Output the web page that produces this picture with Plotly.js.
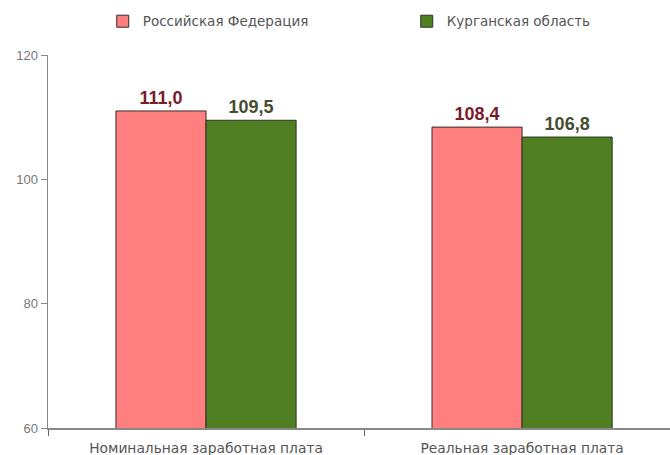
<!DOCTYPE html>
<html><head><meta charset="utf-8">
<script src="https://cdn.plot.ly/plotly-3.0.1.min.js"></script>
<style>html,body{margin:0;padding:0;background:#fff}#c{width:670px;height:455px}</style>
</head><body><div id="c"></div>
<script>
const categories = ["Номинальная заработная плата", "Реальная заработная плата"];
const seriesNames = ["Российская Федерация", "Курганская область"];
const rfValues = [111.0, 108.4];
const kurganValues = [109.5, 106.8];
const yTicks = [60, 80, 100, 120];

const font = "Liberation Sans, Arial, sans-serif";
const wide = "DejaVu Sans, Liberation Sans, sans-serif";
const traces = [
  {type:"bar", name:seriesNames[0], x:categories, y:rfValues,
   marker:{color:"#ff7f7f", line:{color:"#3a2a2a", width:1}},
   texttemplate:"%{y:.1f}", textposition:"outside", cliponaxis:false,
   textfont:{family:font, size:18, color:"#7a1c2a", weight:"bold"}},
  {type:"bar", name:seriesNames[1], x:categories, y:kurganValues,
   marker:{color:"#4f7f22", line:{color:"#2a3320", width:1}},
   texttemplate:"%{y:.1f}", textposition:"outside", cliponaxis:false,
   textfont:{family:font, size:18, color:"#454d30", weight:"bold"}}
];
const layout = {
  width:670, height:455,
  margin:{l:48, r:0, t:55, b:27, autoexpand:false},
  paper_bgcolor:"#fff", plot_bgcolor:"#fff",
  separators:", ",
  barmode:"group", bargap:0.43, bargroupgap:0,
  font:{family:font, size:12, color:"#444"},
  showlegend:true,
  legend:{orientation:"h", x:0.088, xanchor:"left", y:1.09, yanchor:"middle",
          entrywidth:259, entrywidthmode:"pixels", itemwidth:30,
          font:{family:wide, size:13.5, color:"#555"}, bgcolor:"rgba(0,0,0,0)"},
  xaxis:{type:"category", range:[-0.5, 1.468], showline:true, linecolor:"#888", linewidth:1.5,
         ticks:"outside", tickson:"boundaries", ticklen:6, tickcolor:"#666",
         showgrid:false, ticklabelstandoff:7, tickfont:{family:wide, size:13.8, color:"#555"}},
  yaxis:{range:[60,120], tickvals:yTicks, showline:true, linecolor:"#888", linewidth:1.5,
         ticks:"outside", ticklen:6, tickcolor:"#888", showgrid:false, zeroline:false,
         tickfont:{family:font, size:13, color:"#777"}}
};
Plotly.newPlot("c", traces, layout, {displayModeBar:false, staticPlot:true});
</script></body></html>
